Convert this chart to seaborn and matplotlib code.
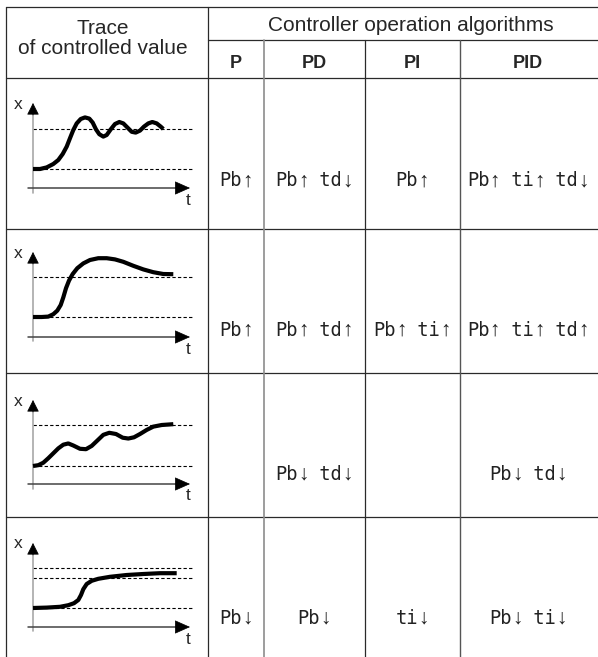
"""PID controller tuning table: trace shapes and suggested parameter changes."""

import matplotlib

matplotlib.use("Agg")
import matplotlib.pyplot as plt  # noqa: E402
import numpy as np  # noqa: E402
import seaborn as sns  # noqa: E402
from matplotlib.offsetbox import AnnotationBbox, HPacker, TextArea  # noqa: E402

W, H = 598, 657

# Table text
HEAD_LEFT = ["Trace", "of controlled value"]
HEAD_TOP = "Controller operation algorithms"
ALGOS = ["P", "PD", "PI", "PID"]
RULES = [
    ["Pb↑", "Pb↑ td↓", "Pb↑", "Pb↑ ti↑ td↓"],
    ["Pb↑", "Pb↑ td↑", "Pb↑ ti↑", "Pb↑ ti↑ td↑"],
    ["", "Pb↓ td↓", "", "Pb↓ td↓"],
    ["Pb↓", "Pb↓", "ti↓", "Pb↓ ti↓"],
]

# Traces (t = time, v = controlled value; 0 = lower dashed level, 1 = upper)
T1 = [0, 7, 13.7, 20.3, 25.3, 29.7, 33.7, 37, 40.3, 43.7, 47.7, 52, 56.3, 59.7,
      63, 66.3, 70.3, 73.7, 77.7, 82, 86.3, 90.3, 94.3, 98.7, 102.7, 107, 111,
      115.3, 119.3, 123.7, 127.7, 130.3]
V1 = [0, 0, 0.04, 0.125, 0.225, 0.375, 0.56, 0.77, 0.975, 1.14, 1.25, 1.29,
      1.26, 1.16, 0.99, 0.87, 0.81, 0.85, 0.99, 1.125, 1.175, 1.14, 1.04, 0.93,
      0.91, 0.96, 1.06, 1.14, 1.175, 1.14, 1.06, 1.0]
T2 = [0, 8.7, 15.3, 20.3, 24.3, 27.7, 30.3, 33, 36, 39.7, 44.3, 50.3, 57, 65.3,
      73.7, 82, 90.3, 100.3, 110.3, 120.3, 130.3, 140.3]
V2 = [0, 0, 0.01, 0.07, 0.16, 0.3, 0.49, 0.72, 0.91, 1.075, 1.22, 1.34, 1.425,
      1.47, 1.47, 1.44, 1.38, 1.28, 1.19, 1.12, 1.075, 1.07]
T3 = [0, 5.3, 10.3, 15.3, 20.3, 25.3, 30.3, 35.3, 40.3, 47, 53, 58.7, 64.3,
      70.3, 76.3, 83, 89.7, 95.3, 101, 107, 113.7, 120.3, 128.7, 140.3]
V3 = [0, 0.02, 0.08, 0.19, 0.31, 0.43, 0.52, 0.55, 0.5, 0.42, 0.41, 0.49, 0.62,
      0.76, 0.81, 0.78, 0.69, 0.67, 0.7, 0.78, 0.88, 0.96, 1.0, 1.02]
T4 = [0, 13.7, 27, 35.3, 41, 45.3, 48, 50.3, 53.7, 58.7, 65.3, 77, 93.7, 110.3,
      127, 143.7]
V4 = [0, 0.01, 0.03, 0.07, 0.12, 0.2, 0.325, 0.47, 0.6, 0.68, 0.73, 0.78,
      0.825, 0.85, 0.87, 0.87]
TRACES = [(T1, V1), (T2, V2), (T3, V3), (T4, V4)]
LEVELS = [[0, 1], [0, 1], [0, 1], [0, 0.75, 1]]

# Layout (pixels)
COLS = [6, 208, 264, 365, 460, 598]
ROWS = [78, 229, 373, 517, 657]
TRACE_GEOM = [  # ylow, spacing, x-axis y, arrow tip y, axis bottom y
    (169, 40, 188, 103, 193),
    (317, 40, 337, 252, 341),
    (466, 41, 484, 400, 489),
    (608, 40, 627, 543, 631),
]
TEXT_MID = [181, 330, 474, 618]
CENTERS = [236, 314, 412, 528]
X0 = 33
ARROWS = "↑↓"

sns.set_theme(style="white")
plt.rcParams["font.family"] = ["Liberation Sans", "DejaVu Sans"]

fig = plt.figure(figsize=(W / 100, H / 100), dpi=100)
ax = fig.add_axes([0, 0, 1, 1])
ax.set_xlim(0, W)
ax.set_ylim(H, 0)
ax.axis("off")

dark, grey = "#2a2a2a", "#8c8c8c"
ax.plot([COLS[0], W], [7, 7], color=dark, lw=0.9)
ax.plot([COLS[1], W], [40, 40], color=dark, lw=0.9)
for y in ROWS[:-1]:
    ax.plot([COLS[0], W], [y, y], color=dark, lw=0.9)
ax.plot([COLS[0], COLS[0]], [7, H], color=dark, lw=0.9)
ax.plot([COLS[1], COLS[1]], [7, H], color=dark, lw=0.9)
ax.plot([COLS[2], COLS[2]], [40, H], color=grey, lw=1.2)
ax.plot([COLS[3], COLS[3]], [40, H], color=dark, lw=0.9)
ax.plot([COLS[4], COLS[4]], [40, H], color="#555555", lw=1.0)

ax.text(103, 34.5, HEAD_LEFT[0], ha="center", va="baseline", fontsize=15)
ax.text(103, 54, HEAD_LEFT[1], ha="center", va="baseline", fontsize=15)
ax.text(411, 31, HEAD_TOP, ha="center", va="baseline", fontsize=15)
for cx, name in zip(CENTERS, ALGOS):
    ax.text(cx, 68.5, name, ha="center", va="baseline", fontsize=13,
            fontweight="bold")

letter_props = dict(family=["DejaVu Sans Mono"], fontsize=13.5, color="#222222")
arrow_props = dict(family=["Liberation Sans", "DejaVu Sans"], fontsize=15,
                   color="#222222")


def rule_box(txt):
    parts, cur = [], ""
    for ch in txt:
        if ch in ARROWS:
            if cur:
                parts.append(TextArea(cur, textprops=letter_props))
                cur = ""
            parts.append(TextArea(ch, textprops=arrow_props))
        else:
            cur += ch
    if cur:
        parts.append(TextArea(cur, textprops=letter_props))
    return HPacker(children=parts, align="baseline", pad=0, sep=0)


for r, row in enumerate(RULES):
    for cx, txt in zip(CENTERS, row):
        if txt:
            ab = AnnotationBbox(rule_box(txt), (cx, TEXT_MID[r]), xycoords="data",
                                frameon=False, box_alignment=(0.5, 0.5), pad=0)
            ax.add_artist(ab)

L, R = 13, 203
for r, ((t, v), lev, geom) in enumerate(zip(TRACES, LEVELS, TRACE_GEOM)):
    ylow, sp, yax, ytip, ybot = geom
    top, bot = ROWS[r], ROWS[r + 1]
    tax = fig.add_axes([L / W, 1 - bot / H, (R - L) / W, (bot - top) / H])
    tax.set_xlim(L - X0, R - X0)
    tax.set_ylim((ylow - bot) / sp, (ylow - top) / sp)
    tax.axis("off")
    vax = (ylow - yax) / sp
    vtip = (ylow - ytip) / sp
    vbot = (ylow - ybot) / sp
    for lv in lev:
        tax.plot([0, 159], [lv, lv], color="black", lw=0.8, ls=(0, (3, 2)))
    tax.plot([0, 0], [vbot, vtip - 8 / sp], color="#a8a8a8", lw=1.2)
    tax.annotate("", xy=(0, vtip), xytext=(0, vtip - 12 / sp),
                 arrowprops=dict(arrowstyle="-|>,head_length=0.75,head_width=0.38",
                                 color="black", lw=0.5, mutation_scale=10,
                                 shrinkA=0, shrinkB=0))
    tax.plot([-5, 147], [vax, vax], color="#444444", lw=1.1)
    tax.annotate("", xy=(157, vax), xytext=(143, vax),
                 arrowprops=dict(arrowstyle="-|>,head_length=0.9,head_width=0.4",
                                 color="black", lw=0.5, mutation_scale=11,
                                 shrinkA=0, shrinkB=0))
    sns.lineplot(x=np.array(t), y=np.array(v), ax=tax, color="black", lw=3,
                 solid_capstyle="butt", solid_joinstyle="round")
    tax.text(-15, vtip - 1 / sp, "x", ha="center", va="center", fontsize=12.5)
    tax.text(155, vax - 12 / sp, "t", ha="center", va="center", fontsize=12.5)

fig.savefig("out.png", dpi=100)
